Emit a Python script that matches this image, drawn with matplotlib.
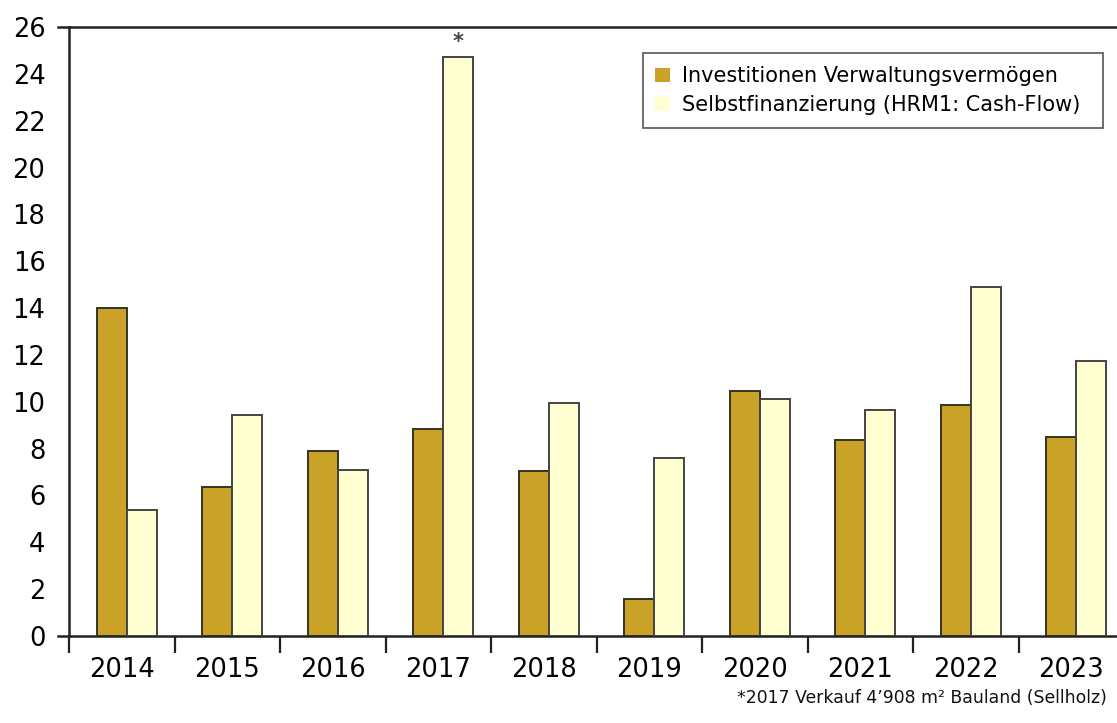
import matplotlib
matplotlib.use("Agg")
import matplotlib.pyplot as plt
from matplotlib.patches import Rectangle
import numpy as np

years = ["2014", "2015", "2016", "2017", "2018", "2019", "2020", "2021", "2022", "2023"]
investitionen = [14.0, 6.35, 7.9, 8.85, 7.05, 1.6, 10.45, 8.35, 9.85, 8.5]
selbstfinanzierung = [5.4, 9.45, 7.1, 24.7, 9.95, 7.6, 10.1, 9.65, 14.9, 11.75]
yticks = list(range(0, 27, 2))
label_inv = "Investitionen Verwaltungsvermögen"
label_sf = "Selbstfinanzierung (HRM1: Cash-Flow)"
footnote = "*2017 Verkauf 4\u2019908 m\u00b2 Bauland (Sellholz)"

plt.rcParams['font.family'] = ['DejaVu Sans']

W, H = 1117, 723
fig = plt.figure(figsize=(W / 100, H / 100), dpi=100)
ax = fig.add_axes([69 / W, 1 - 636 / H, (1124 - 69) / W, (636 - 27) / H])

x = np.arange(len(years)) + 0.5
bw = 0.285
dark = "#C9A227"
light = "#FFFFD2"
ax.bar(x - 0.095, investitionen, width=bw, color=dark, edgecolor="#333322",
       linewidth=1.4, label=label_inv, zorder=3)
ax.bar(x + 0.19, selbstfinanzierung, width=bw, color=light, edgecolor="#444444",
       linewidth=1.4, label=label_sf, zorder=3)

ax.text(x[3] + 0.19, selbstfinanzierung[3] + 0.25, "*", ha="center", va="bottom",
        fontsize=15, fontweight="bold", color="#444444")

ax.set_xlim(0, len(years))
ax.set_ylim(0, 26)
ax.set_yticks(yticks)
ax.set_yticklabels([str(t) for t in yticks], fontsize=18.5)
ax.tick_params(axis="y", length=0, pad=17)
ax.set_xticks(np.arange(len(years)))
ax.set_xticklabels([])
ax.set_xticks(x, minor=True)
ax.set_xticklabels(years, minor=True, fontsize=18.5)
ax.tick_params(axis="x", which="major", length=12, width=1.6, direction="out", color="#222222")
ax.tick_params(axis="x", which="minor", length=0, pad=15)

for s in ["left", "bottom", "top"]:
    ax.spines[s].set_linewidth(1.8)
    ax.spines[s].set_color("#222222")
ax.spines["right"].set_visible(False)

# small extensions of the top and bottom lines to the left
for yv in (0, 26):
    ax.plot([-0.1, 0], [yv, yv], color="#222222", lw=1.8, clip_on=False,
            transform=ax.transData)

# legend frame drawn separately (wider box than the text)
ax.add_patch(Rectangle((643 / W, 1 - 128 / H), (1103 - 643) / W, (128 - 53) / H,
                       transform=fig.transFigure, facecolor="white",
                       edgecolor="#555555", linewidth=1.2, zorder=4, clip_on=False))
leg = ax.legend(loc="upper left", bbox_to_anchor=(651 / W, 1 - 62 / H),
                bbox_transform=fig.transFigure, fontsize=15, frameon=False,
                handlelength=0.7, handleheight=0.7, handletextpad=0.6,
                borderpad=0.2, labelspacing=0.42, borderaxespad=0)
leg.set_zorder(5)
for h in leg.legend_handles:
    h.set_edgecolor("none")

fig.text(1107 / W, 1 - 698 / H, footnote, ha="right", va="center", fontsize=12.4,
         color="#111111")

fig.savefig("out.png", dpi=100)
